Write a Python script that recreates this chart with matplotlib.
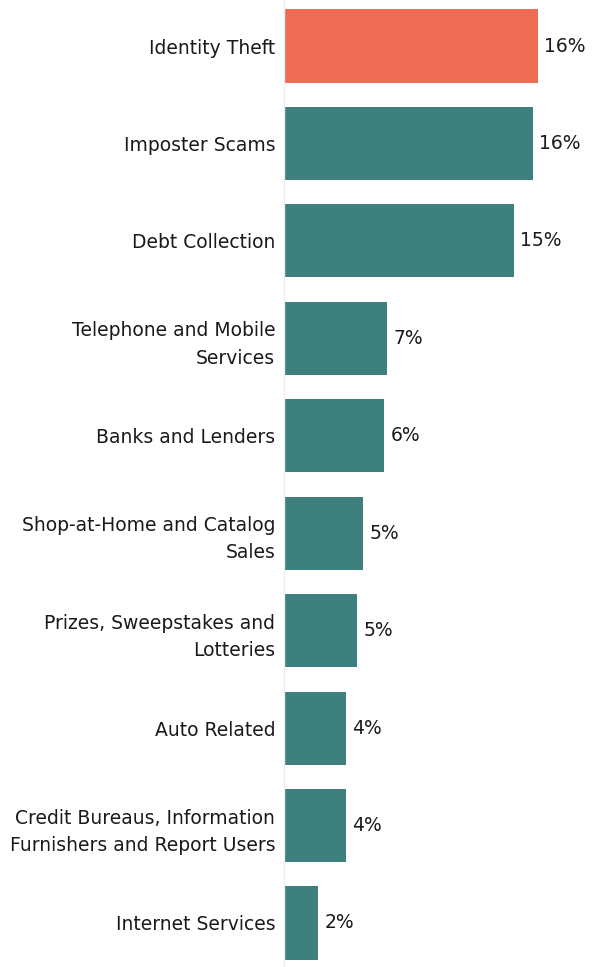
import numpy as np
import matplotlib
matplotlib.use("Agg")
import matplotlib.pyplot as plt

categories = [
    "Identity Theft",
    "Imposter Scams",
    "Debt Collection",
    "Telephone and Mobile\nServices",
    "Banks and Lenders",
    "Shop-at-Home and Catalog\nSales",
    "Prizes, Sweepstakes and\nLotteries",
    "Auto Related",
    "Credit Bureaus, Information\nFurnishers and Report Users",
    "Internet Services",
]
values = [16.0, 15.7, 14.5, 6.5, 6.35, 5.0, 4.65, 3.9, 3.9, 2.2]
labels = ["16%", "16%", "15%", "7%", "6%", "5%", "5%", "4%", "4%", "2%"]
colors = ["#F06C55"] + ["#3E807D"] * 9

W, H = 603, 967
fig = plt.figure(figsize=(W / 100, H / 100), dpi=100)
ax = fig.add_axes([283.5 / W, 0, (W - 283.5) / W, 1])

y = np.arange(len(categories))
ax.barh(y, values, height=0.75, color=colors)
ax.set_xlim(0, (W - 283.5) / 15.9)
ax.set_ylim(9 + 44 / 97.44, -46 / 97.44)

for yi, v, lab in zip(y, values, labels):
    ax.text(v + 0.4, yi, lab, va="center", ha="left", fontsize=13.5,
            color="#1a1a1a", family="DejaVu Sans")

ax.set_yticks(y)
ax.set_yticklabels(categories, fontsize=13.5, color="#1a1a1a",
                   family="DejaVu Sans", linespacing=1.55)
ax.tick_params(axis="y", length=0, pad=6)
ax.set_xticks([])
for s in ["top", "right", "bottom"]:
    ax.spines[s].set_visible(False)
ax.spines["left"].set_color("#eeeeee")
ax.spines["left"].set_linewidth(1)

fig.savefig("out.png", dpi=100)
